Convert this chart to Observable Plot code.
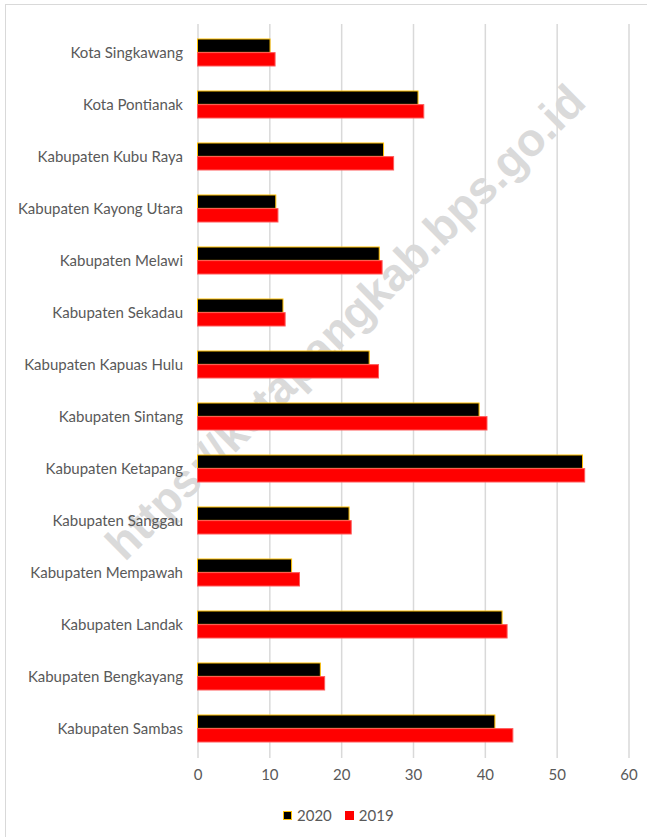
<!DOCTYPE html>
<html>
<head>
<meta charset="utf-8">
<script src="https://cdn.jsdelivr.net/npm/d3@7"></script>
<script src="https://cdn.jsdelivr.net/npm/@observablehq/plot@0.6"></script>
<style>
  html, body { margin: 0; padding: 0; background: #fff; overflow: hidden; width: 647px; height: 837px; }
  #frame { position: absolute; left: 5px; top: 4px; width: 700px; height: 900px; border: 1px solid #d9d9d9; box-sizing: border-box; }
  #wm { position: absolute; left: 345px; top: 322px; transform: translate(-50%, -50%) rotate(-44.7deg);
        font: bold 46px "Liberation Sans", Arial, sans-serif; color: #dadada; white-space: nowrap; z-index: 0; }
  #chart { position: absolute; left: 0; top: 0; z-index: 1; }
  #legend { position: absolute; left: 283px; top: 806px; display: flex; align-items: center; gap: 0;
            font: 15px Lato, sans-serif; color: #595959; z-index: 1; }
  .sw { width: 9px; height: 9px; display: inline-block; margin-right: 5px; box-sizing: border-box; }
</style>
</head>
<body>
<div id="frame"></div>
<div id="wm">https://ketapangkab.bps.go.id</div>
<div id="chart"></div>
<div id="legend"></div>
<script>
const categories = [
  "Kota Singkawang",
  "Kota Pontianak",
  "Kabupaten Kubu Raya",
  "Kabupaten Kayong Utara",
  "Kabupaten Melawi",
  "Kabupaten Sekadau",
  "Kabupaten Kapuas Hulu",
  "Kabupaten Sintang",
  "Kabupaten Ketapang",
  "Kabupaten Sanggau",
  "Kabupaten Mempawah",
  "Kabupaten Landak",
  "Kabupaten Bengkayang",
  "Kabupaten Sambas"
];
const values2020 = [10.1, 30.7, 25.9, 10.9, 25.3, 11.9, 23.9, 39.2, 53.6, 21.1, 13.1, 42.4, 17.1, 41.4];
const values2019 = [10.8, 31.5, 27.3, 11.2, 25.7, 12.2, 25.2, 40.3, 53.9, 21.4, 14.2, 43.1, 17.7, 43.9];
const xTicks = [0, 10, 20, 30, 40, 50, 60];
const seriesNames = ["2020", "2019"];
const seriesFill = ["#000000", "#ff0000"];
const seriesStroke = ["#ffc000", "#ff5a5a"];

const W = 647, H = 790, mt = 24, mb = 32;
const step = (H - mt - mb) / categories.length;
const half = step * 0.52 / 2;
const idx = d3.range(categories.length);

const chart = Plot.plot({
  width: W,
  height: H,
  marginLeft: 197.5,
  marginRight: 18.5,
  marginTop: mt,
  marginBottom: mb,
  style: { fontFamily: "Lato, sans-serif", fontSize: "15px", color: "#595959", background: "transparent", overflow: "visible" },
  x: { domain: [0, 60], ticks: xTicks, tickSize: 0, tickPadding: 11, label: null },
  y: { domain: categories, paddingInner: 0.48, paddingOuter: 0.24, tickSize: 0, tickPadding: 15, label: null },
  marks: [
    Plot.ruleX(xTicks, { stroke: "#d9d9d9", strokeWidth: 1.5 }),
    Plot.barX(idx, { x: i => values2020[i], y: i => categories[i], fill: seriesFill[0], stroke: seriesStroke[0], strokeWidth: 1, insetBottom: half }),
    Plot.barX(idx, { x: i => values2019[i], y: i => categories[i], fill: seriesFill[1], stroke: seriesStroke[1], strokeWidth: 1, insetTop: half })
  ]
});
document.getElementById("chart").appendChild(chart);

const legend = document.getElementById("legend");
seriesNames.forEach((name, i) => {
  const item = document.createElement("span");
  item.style.display = "inline-flex";
  item.style.alignItems = "center";
  item.style.marginRight = i === 0 ? "13px" : "0";
  const sw = document.createElement("span");
  sw.className = "sw";
  sw.style.background = seriesFill[i];
  sw.style.border = "1px solid " + (i === 0 ? seriesStroke[0] : seriesFill[i]);
  const t = document.createElement("span");
  t.textContent = name;
  item.appendChild(sw);
  item.appendChild(t);
  legend.appendChild(item);
});
</script>
</body>
</html>
